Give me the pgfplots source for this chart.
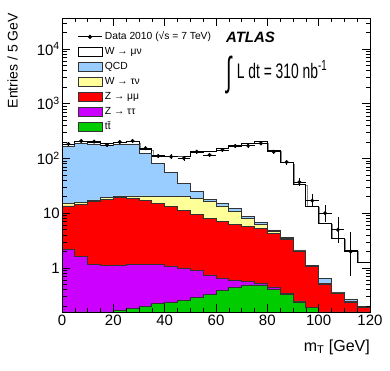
\documentclass[border=0pt]{standalone}
\usepackage{fontspec}
\setmainfont{Liberation Sans}
\newfontfamily\lumifont{Liberation Sans}[FakeStretch=0.66]
\newfontfamily\intfont{Liberation Sans}[FakeStretch=0.5]
\usepackage{pgfplots}
\usepackage{pgfplotstable}
\pgfplotsset{compat=1.18}
\definecolor{qcdc}{RGB}{153,204,255}
\definecolor{wtauc}{RGB}{255,255,153}
\definecolor{zmmc}{RGB}{255,0,0}
\definecolor{zttc}{RGB}{204,0,255}
\definecolor{ttc}{RGB}{0,204,0}

% cumulative stack heights per 5 GeV bin (left bin edge)
\pgfplotstableread{
x    tot   qcd   wtau  zmm   ztt   tt
0    184   168   15.2  13.6  2.2   0.1
5    203   185   15.6  14.2  1.61  0.1
10   198   180   17.5  16.3  1.18  0.1
15   189   172   19.5  18.0  1.10  0.1
20   198   180   20.7  19.3  1.13  0.17
25   203   183   20.7  18.8  1.18  0.18
30   147   124   20.7  17.0  1.17  0.20
35   116   80    20.5  15.2  1.15  0.226
40   111   55    20.2  13.2  1.09  0.236
45   111   35.2  20.0  11.1  0.99  0.26
50   128   24.8  18.8  9.6   0.89  0.29
55   136   18.0  16.3  8.1   0.745 0.33
60   150   15.2  13.6  7.0   0.65  0.385
65   177   12.3  10.7  6.3   0.60  0.44
70   189   8.9   8.1   5.7   0.56  0.49
75   203   6.7   6.35  5.3   0.525 0.49
80   143   4.94  4.7   4.3   0.45  0.40
85   84    3.55  3.45  3.34  0.34  0.33
90   34.2  2.13  2.05  1.99  0.25  0.24
95   13.6  1.13  1.08  1.06  0.19  0.19
100  6.5   0.64  0.53  0.51  0.1   0.1
105  3.5   0.365 0.35  0.345 0.1   0.1
110  2.13  0.27  0.245 0.24  0.1   0.1
115  1.25  0.20  0.19  0.19  0.1   0.1
120  1.25  0.20  0.19  0.19  0.1   0.1
}\stack

\pgfplotstableread{
x     y    ex   ep    em
2.5   184  2.5  13.6  13.6
7.5   209  2.5  14.5  14.5
12.5  203  2.5  14.2  14.2
17.5  177  2.5  13.3  13.3
22.5  200  2.5  14.1  14.1
27.5  209  2.5  14.5  14.5
32.5  154  2.5  12.4  12.4
37.5  111  2.5  10.5  10.5
42.5  108  2.5  10.4  10.4
47.5  101  2.5  10.0  10.0
52.5  133  2.5  11.5  11.5
57.5  116  2.5  10.8  10.8
62.5  143  2.5  12.0  12.0
67.5  169  2.5  13.0  13.0
72.5  171  2.5  13.1  13.1
77.5  189  2.5  13.7  13.7
82.5  133  2.5  11.5  11.5
87.5  86   2.5  9.3   9.3
92.5  37   2.5  6.1   6.1
97.5  17   2.5  5.2   4.1
102.5 10   2.5  4.3   3.1
107.5 5    2.5  3.4   2.2
112.5 2    2.5  2.6   1.3
}\data

\pgfplotsset{
  patch/.style={legend image code/.code={\draw[##1] (0pt,-4.6pt) rectangle (24pt,4.6pt);}},
}

\begin{document}
\begin{tikzpicture}
\useasboundingbox (0,0) rectangle (390pt,371pt);
\begin{axis}[
  at={(62pt,59pt)}, anchor=south west,
  scale only axis, width=308pt, height=294pt,
  xmin=0, xmax=120, ymode=log, ymin=0.157, ymax=36840,
  log origin=infty,
  xtick={0,20,...,120}, minor x tick num=3,
  ytick={1,10,100,1000,10000},
  yticklabels={1,10,10\textsuperscript{2},10\textsuperscript{3},10\textsuperscript{4}},
  minor ytick={0.2,0.3,0.4,0.5,0.6,0.7,0.8,0.9,2,3,4,5,6,7,8,9,20,30,40,50,60,70,80,90,200,300,400,500,600,700,800,900,2000,3000,4000,5000,6000,7000,8000,9000,20000,30000},
  tick align=inside, tick pos=both,
  major tick length=8pt, minor tick length=4.5pt,
  /pgf/number format/assume math mode=true,
  ticklabel style={font=\fontsize{15}{15}\selectfont},
  xticklabel style={inner sep=2pt, yshift=-1pt},
  yticklabel style={inner sep=2pt},
  axis line style={line width=0.8pt},
  every tick/.style={black, line width=0.6pt},
  axis on top,
  xlabel={m\textsubscript{T} [GeV]},
  xlabel style={at={(rel axis cs:1,-0.093)}, anchor=north east, inner sep=0pt, font=\fontsize{16}{16}\selectfont},
  ylabel={Entries / 5 GeV},
  ylabel style={at={(rel axis cs:-0.143,1.017)}, anchor=south east, inner sep=0pt, font=\fontsize{14}{14}\selectfont},
  legend style={at={(rel axis cs:0.05,0.962)}, anchor=north west, draw=none, fill=none,
    inner sep=0pt, row sep=0pt, font=\fontsize{10.3}{12}\selectfont,
    nodes={text height=7.6pt, text depth=2.4pt, inner sep=2.5pt},
    /tikz/every even column/.append style={column sep=2pt}},
  legend cell align=left,
]
\addlegendimage{black, line width=0.8pt, legend image code/.code={\draw[black, line width=0.8pt] (0pt,0pt) -- (24pt,0pt); \fill[black] (12pt,0pt) circle (1.7pt);}}
\addlegendentry{Data 2010 (√s = 7 TeV)}

\addplot[const plot, fill=white, draw=none, forget plot] table[x=x,y=tot] {\stack} \closedcycle;
\addplot[const plot, draw=black!45, line width=0.8pt, forget plot, shift={(1.2pt,-1.4pt)}] table[x=x,y=tot] {\stack};
\addplot[const plot, fill=white, draw=black, line width=0.8pt, patch] table[x=x,y=tot] {\stack} \closedcycle;
\addlegendentry{W → μν}
\addplot[const plot, fill=qcdc, draw=black!80, line width=0.8pt, patch] table[x=x,y=qcd] {\stack} \closedcycle;
\addlegendentry{QCD}
\addplot[const plot, fill=wtauc, draw=black!80, line width=0.8pt, patch] table[x=x,y=wtau] {\stack} \closedcycle;
\addlegendentry{W → τν}
\addplot[const plot, fill=zmmc, draw=black!80, line width=0.8pt, patch] table[x=x,y=zmm] {\stack} \closedcycle;
\addlegendentry{Z → μμ}
\addplot[const plot, fill=zttc, draw=black!80, line width=0.8pt, patch] table[x=x,y=ztt] {\stack} \closedcycle;
\addlegendentry{Z → ττ}
\addplot[const plot, fill=ttc, draw=black!80, line width=0.8pt, patch] table[x=x,y=tt] {\stack} \closedcycle;
\addlegendentry{t\={t}}

\addplot[only marks, mark=*, mark size=1.8pt, black, forget plot,
  error bars/.cd, x dir=both, x explicit, y dir=both, y explicit,
  error mark=none, error bar style={line width=0.8pt, black}]
  table[x=x, y=y, x error=ex, y error plus=ep, y error minus=em] {\data};

\node[anchor=base west, inner sep=0pt, font=\fontsize{15}{15}\selectfont\bfseries\itshape] at (rel axis cs:0.532,0.918) {ATLAS};
\node[anchor=base west, inner sep=0pt] at (rel axis cs:0.533,0.772) {\intfont\fontsize{40}{42}\selectfont ∫};
\node[anchor=base west, inner sep=0pt] at (rel axis cs:0.567,0.795) {\lumifont\fontsize{21}{24}\selectfont L dt = 310 nb\textsuperscript{-1}};
\end{axis}
\end{tikzpicture}
\end{document}
